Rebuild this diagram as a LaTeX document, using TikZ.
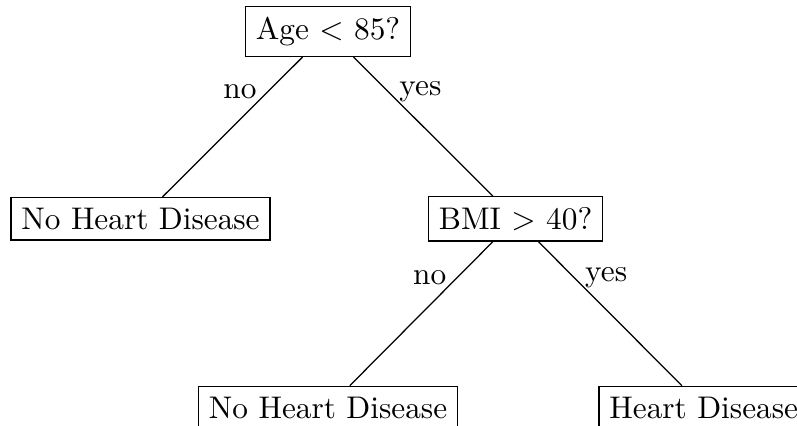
\documentclass[tikz,border=0pt]{standalone}
\begin{document}
\begin{tikzpicture}[x=1pt,y=1pt,
  treenode/.style={draw, line width=0.4pt},
  edgelabel/.style={pos=0.25}]
\useasboundingbox (0,0) rectangle (254.6,135.8);
\clip (0,0) rectangle (254.6,135.8);
\node[treenode] (root) at (104.8,125.7) {Age $<$ 85?};
\node[treenode] (l) at (44.9,65.9) {No Heart Disease};
\node[treenode] (bmi) at (164.7,65.9) {BMI $>$ 40?};
\node[treenode] (bl) at (104.8,5.6) {No Heart Disease};
\node[treenode] (br) at (224.8,5.6) {Heart Disease};
\draw (root) -- node[edgelabel,left] {no} (l);
\draw (root) -- node[edgelabel,right] {yes} (bmi);
\draw (bmi) -- node[edgelabel,left] {no} (bl);
\draw (bmi) -- node[edgelabel,right] {yes} (br);
\end{tikzpicture}
\end{document}
